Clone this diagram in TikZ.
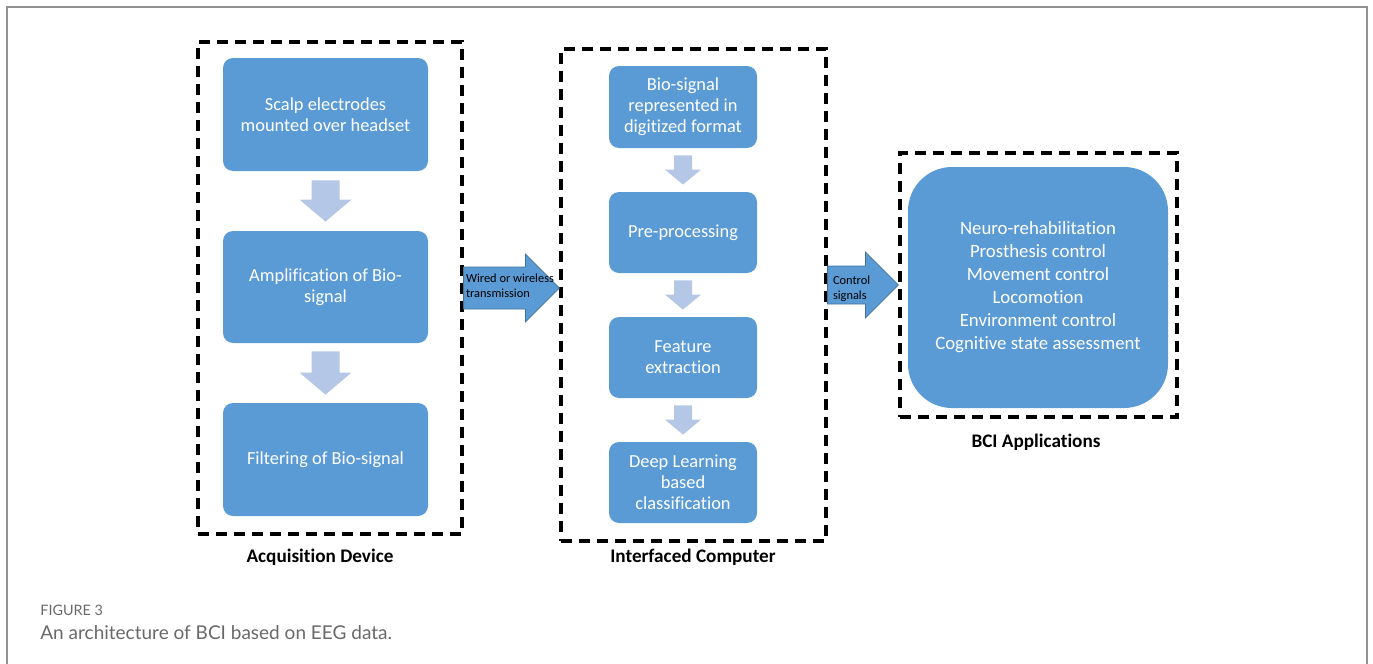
\documentclass[tikz,border=0pt]{standalone}
\usepackage{fontspec}
\setmainfont{Carlito}[Ligatures={NoCommon}]
\newfontfamily\capfont{Lato}
\usepackage{tikz}
\usetikzlibrary{calc}

\definecolor{boxblue}{RGB}{91,155,213}
\definecolor{arrowedge}{RGB}{65,113,156}
\definecolor{softblue}{RGB}{180,199,231}
\definecolor{framegray}{RGB}{145,145,145}
\definecolor{captiongray}{RGB}{105,105,105}

\tikzset{
  pageframe/.style={draw=framegray, line width=1.1pt},
  groupbox/.style={draw=black, line width=1.6pt, dash pattern=on 5.5pt off 3.5pt, inner sep=0pt},
  stepbox/.style={fill=boxblue, rounded corners=5pt, text=white, align=center, inner sep=0pt,
    font=\fontsize{9.2}{10.5}\selectfont},
  appbox/.style={fill=boxblue, rounded corners=22pt, text=white, align=center, inner sep=0pt,
    font=\fontsize{9.4}{11.5}\selectfont},
  grouplabel/.style={font=\bfseries\fontsize{9.6}{11}\selectfont},
  softarrow/.style={fill=softblue},
  bigarrow/.style={fill=boxblue, draw=arrowedge, line width=0.4pt},
  arrowtext/.style={align=left, inner sep=0pt, anchor=west, font=\fontsize{6.2}{7.4}\selectfont}
}

% down block arrow: from, to, gap, shaft half, head half, head length
\newcommand{\downblock}[6]{%
  \fill[softarrow] ($(#1.south)+(-#4,#3)$) -- ($(#1.south)+(#4,#3)$)
    -- ($(#2.north)+(#4,-#3-#6)$) -- ($(#2.north)+(#5,-#3-#6)$)
    -- ($(#2.north)+(0,-#3)$) -- ($(#2.north)+(-#5,-#3-#6)$)
    -- ($(#2.north)+(-#4,-#3-#6)$) -- cycle;}
% right block arrow: from, to, shaft half, head half, head length
\newcommand{\rightblock}[5]{%
  \draw[bigarrow] ($(#1)+(0,-#3)$) -- ($(#2)+(-#5,-#3)$) -- ($(#2)+(-#5,-#4)$)
    -- (#2) -- ($(#2)+(-#5,#4)$) -- ($(#2)+(-#5,#3)$) -- ($(#1)+(0,#3)$) -- cycle;}

\begin{document}
\begin{tikzpicture}[x=0.5pt,y=-0.5pt]
\useasboundingbox (0,0) rectangle (1373,664);
\draw[pageframe] (7,664) -- (7,7) -- (1367,7) -- (1367,664);

% acquisition device
\node[groupbox, minimum width=132pt, minimum height=246pt] (acq) at (330,288) {};
\node[stepbox, minimum width=102.5pt, minimum height=56.5pt] (scalp) at (325.5,114.5) {Scalp electrodes\\mounted over headset};
\node[stepbox, minimum width=102.5pt, minimum height=56pt] (amp) at (325.5,287) {Amplification of Bio-\\signal};
\node[stepbox, minimum width=102.5pt, minimum height=56.5pt] (filt) at (325.5,459.5) {Filtering of Bio-signal};
\node[grouplabel] (acqlabel) at (320,557) {Acquisition Device};
\downblock{scalp}{amp}{9}{14}{26}{22}
\downblock{amp}{filt}{8}{14}{26}{22}

% interfaced computer
\node[groupbox, minimum width=132.5pt, minimum height=246pt] (comp) at (693.5,295) {};
\node[stepbox, minimum width=74pt, minimum height=41pt] (digit) at (683,107) {Bio-signal\\represented in\\digitized format};
\node[stepbox, minimum width=74pt, minimum height=40.5pt] (prep) at (683,232.5) {Pre-processing};
\node[stepbox, minimum width=74pt, minimum height=40.5pt] (feat) at (683,357.5) {Feature\\extraction};
\node[stepbox, minimum width=74pt, minimum height=40.5pt] (deep) at (683,482.5) {Deep Learning\\based\\classification};
\node[grouplabel] (complabel) at (693,557) {Interfaced Computer};
\downblock{digit}{prep}{7}{9}{18}{15}
\downblock{prep}{feat}{7}{9}{18}{15}
\downblock{feat}{deep}{7}{9}{18}{15}

% applications
\node[groupbox, minimum width=138.5pt, minimum height=132pt] (app) at (1038.5,285) {};
\node[appbox, minimum width=130pt, minimum height=120.5pt] (uses) at (1038,287.5) {Neuro-rehabilitation\\Prosthesis control\\Movement control\\Locomotion\\Environment control\\Cognitive state assessment};
\node[grouplabel] (applabel) at (1036,442) {BCI Applications};

% transfer arrows
\rightblock{acq.east}{comp.west |- acq.east}{21}{34}{34}
\node[arrowtext] (wire) at ($(acq.east)+(2,-2)$) {Wired or wireless\\transmission};
\rightblock{comp.east |- app.west}{app.west}{19}{33}{33}
\node[arrowtext] (ctrl) at ($(comp.east |- app.west)+(5,4)$) {Control\\signals};

% caption
\node[anchor=west, inner sep=0pt, text=captiongray, font=\capfont\fontsize{7.2}{8}\selectfont] (fig) at (40,610) {FIGURE 3};
\node[anchor=west, inner sep=0pt, text=captiongray, font=\capfont\fontsize{9.5}{10}\selectfont] (cap) at (40,633) {An architecture of BCI based on EEG data.};
\end{tikzpicture}
\end{document}
